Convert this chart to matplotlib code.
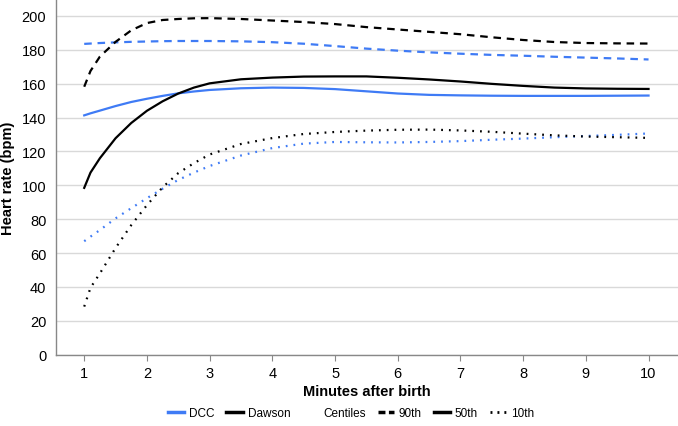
#!/usr/bin/env python3
"""
Heart rate after birth: DCC centiles vs Dawson centiles.
"""

import matplotlib
matplotlib.use("Agg")
import matplotlib.pyplot as plt
from matplotlib.lines import Line2D

# minutes after birth (shared x values for every curve)
minutes = [1, 1.1, 1.25, 1.5, 1.75, 2, 2.25, 2.5, 2.75, 3, 3.5, 4,
           4.5, 5, 5.5, 6, 6.5, 7, 7.5, 8, 8.5, 9, 9.5, 10]

# DCC centiles (blue)
dcc_90 = [183.5, 183.7, 184.0, 184.4, 184.7, 184.9, 185.1, 185.2, 185.2, 185.2, 185.0, 184.5,
          183.6, 182.2, 180.7, 179.5, 178.5, 177.7, 177.0, 176.5, 175.9, 175.4, 174.9, 174.3]
dcc_50 = [141.3, 142.5, 144.1, 146.8, 149.2, 151.1, 152.8, 154.3, 155.4, 156.3, 157.3, 157.7,
          157.5, 156.8, 155.5, 154.2, 153.4, 153.1, 152.9, 152.8, 152.8, 152.8, 152.9, 153.0]
dcc_10 = [67.0, 69.7, 73.6, 80.5, 86.5, 92.4, 98.0, 103.2, 107.5, 111.4, 117.6, 122.0,
          124.6, 125.6, 125.4, 125.3, 125.6, 126.1, 126.9, 127.6, 128.4, 129.1, 129.8, 130.6]

# Dawson centiles (black)
dawson_90 = [158.2, 167.5, 176.0, 184.7, 191.5, 195.8, 197.6, 198.2, 198.6, 198.7, 198.2, 197.3,
             196.4, 195.2, 193.4, 192.0, 190.6, 189.2, 187.4, 185.8, 184.6, 184.0, 183.8, 183.7]
dawson_50 = [98.5, 107.5, 116.0, 127.8, 136.8, 144.0, 149.6, 154.2, 157.7, 160.2, 162.6, 163.6,
             164.2, 164.3, 164.3, 163.5, 162.5, 161.3, 159.9, 158.7, 157.7, 157.2, 157.0, 156.9]
dawson_10 = [28.4, 39.5, 48.0, 63.0, 76.5, 88.3, 98.8, 107.2, 113.1, 118.2, 124.4, 127.9,
             130.3, 131.5, 132.3, 132.8, 132.9, 132.4, 131.6, 130.5, 129.5, 128.8, 128.4, 128.0]

x_ticks = list(range(1, 11))
y_ticks = list(range(0, 201, 20))

BLUE = "#3F7BF5"
BLACK = "#000000"
LW = 1.6
DASHED = (0, (3.4, 2.6))
DOTTED = (0, (0.8, 2.7))
SOLID = "-"

plt.rcParams["font.family"] = ["Liberation Sans", "DejaVu Sans"]

fig = plt.figure(figsize=(6.78, 4.27), dpi=100)
ax = fig.add_axes([56 / 678, 1 - 355.7 / 427, 1 - 56 / 678, 355.7 / 427])

ax.grid(True, axis="y", color="#d9d9d9", linewidth=1.0, zorder=0)
ax.set_axisbelow(True)

# blue first, black on top
for vals, ls in [(dcc_90, DASHED), (dcc_50, SOLID), (dcc_10, DOTTED)]:
    ax.plot(minutes, vals, color=BLUE, lw=LW, ls=ls, dash_capstyle="butt", zorder=3)
for vals, ls in [(dawson_90, DASHED), (dawson_50, SOLID), (dawson_10, DOTTED)]:
    ax.plot(minutes, vals, color=BLACK, lw=LW, ls=ls, dash_capstyle="butt", zorder=4)

ax.set_xlim(0.55, 10.47)
ax.set_ylim(0, 210)
ax.set_xticks(x_ticks)
ax.set_yticks(y_ticks)
ax.tick_params(axis="x", length=4, color="#888888", labelsize=10.5, pad=4)
ax.tick_params(axis="y", length=0, labelsize=10.5, pad=7)

for side in ["top", "right"]:
    ax.spines[side].set_visible(False)
for side in ["left", "bottom"]:
    ax.spines[side].set_color("#888888")
    ax.spines[side].set_linewidth(1.0)

ax.set_xlabel("Minutes after birth", fontsize=10.5, fontweight="bold", labelpad=3)
ax.set_ylabel("Heart rate (bpm)", fontsize=10.5, fontweight="bold", labelpad=5)

handles = [
    Line2D([], [], color=BLUE, lw=2.5),
    Line2D([], [], color=BLACK, lw=2.5),
    Line2D([], [], alpha=0),
    Line2D([], [], color=BLACK, lw=2.5, ls=(0, (2.0, 1.0))),
    Line2D([], [], color=BLACK, lw=2.5),
    Line2D([], [], color=BLACK, lw=2.0, ls=(0, (0.7, 1.8))),
]
labels = ["DCC", "Dawson", "Centiles", "90th", "50th", "10th"]
fig.legend(handles, labels, ncol=6, loc="center", bbox_to_anchor=(351 / 678, 1 - 414 / 427),
           frameon=False, fontsize=8.5, handlelength=1.4, handletextpad=0.4,
           columnspacing=1.0, borderpad=0, borderaxespad=0)

fig.savefig("out.png", dpi=100)
print("Saved: out.png")
